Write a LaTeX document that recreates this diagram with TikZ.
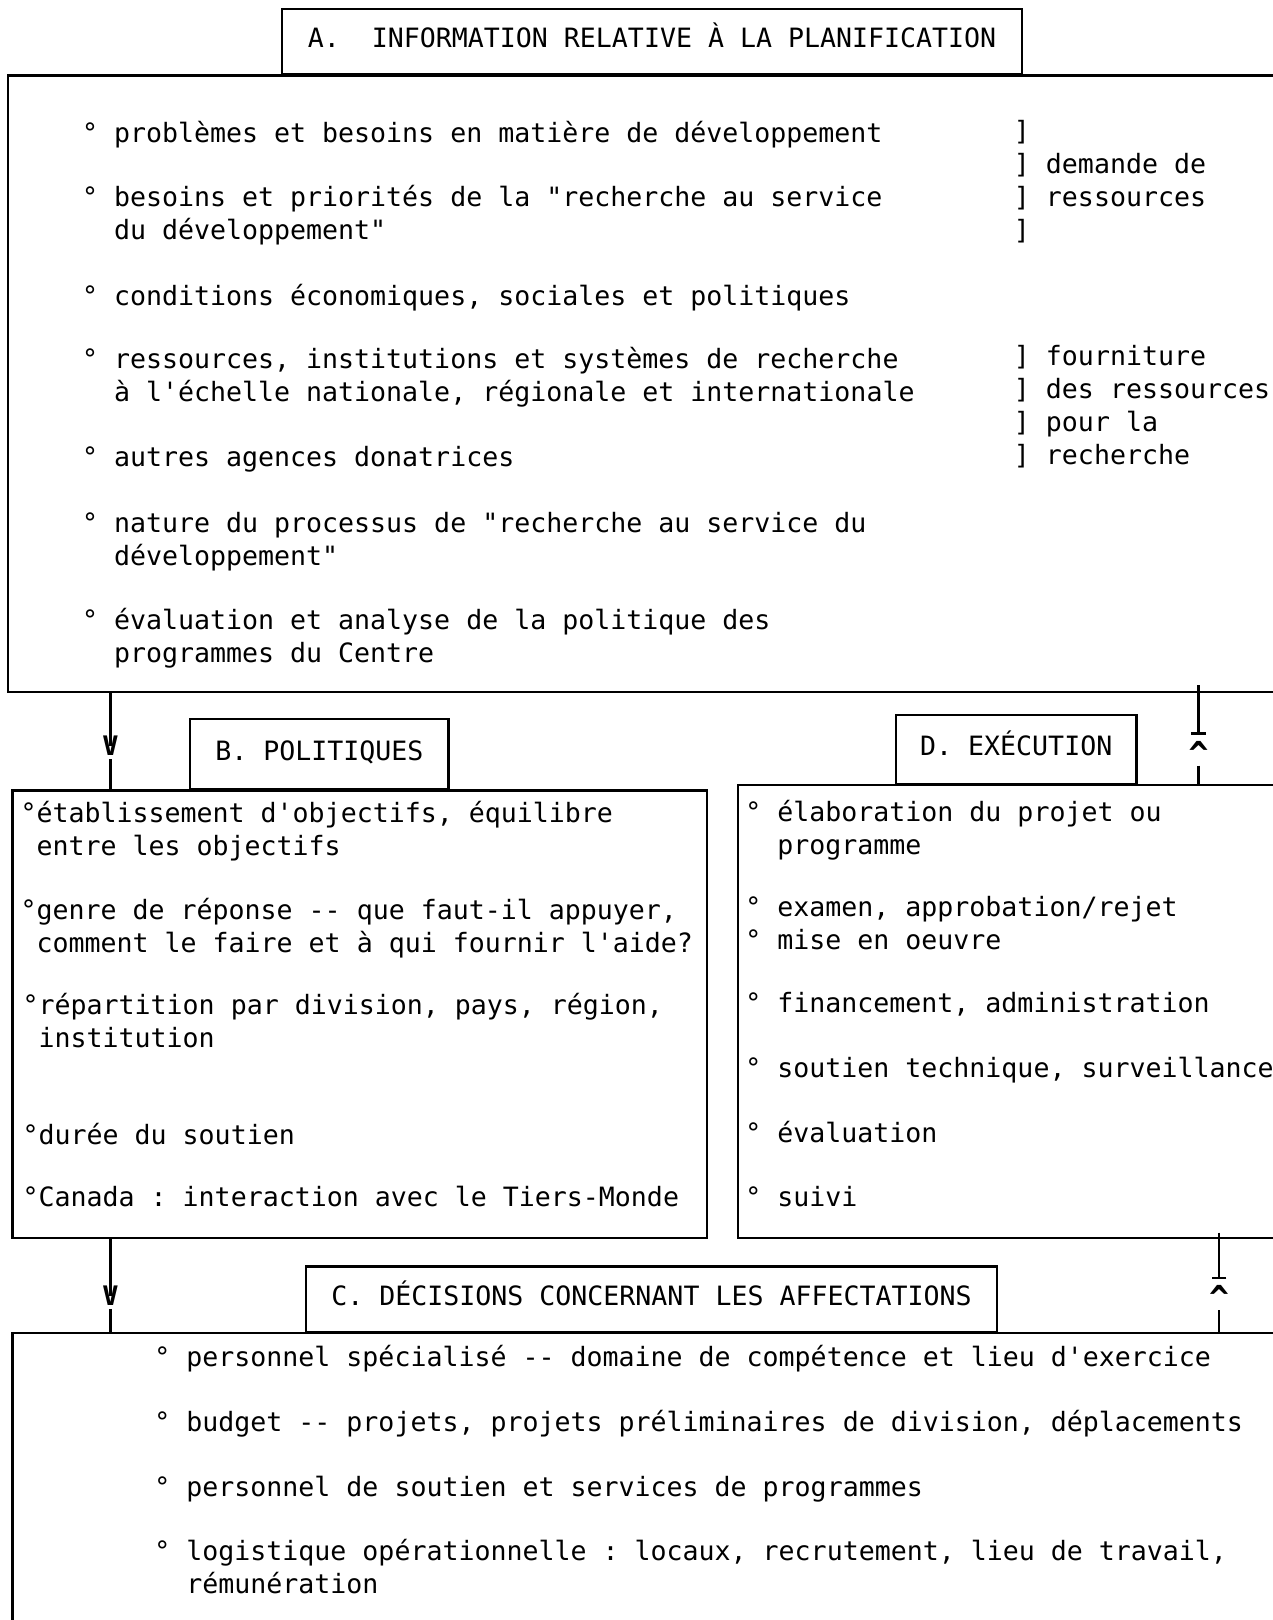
\documentclass[tikz,border=0pt]{standalone}
\usepackage{fontspec}
\setmonofont{DejaVu Sans Mono}
\usetikzlibrary{fit,arrows.meta}

\newcommand\typed{\ttfamily\fontsize{12.87}{16}\selectfont}
\newcommand\itemdot{\llap{°\ }}
\newcommand\tightdot{\llap{°}}

\tikzset{
	box/.style={draw, line width=1.1pt, inner sep=0pt},
	ttl/.style={box, anchor=south west, font=\typed, text height=8.5pt, text depth=2.5pt},
	txt/.style={anchor=base west, inner sep=0pt, align=left, font=\typed},
	arr/.style={inner sep=1.5pt, font=\ttfamily\bfseries\fontsize{13}{16}\selectfont},
	uparr/.style={inner sep=0pt, font=\ttfamily\bfseries\fontsize{16}{16}\selectfont},
	conn/.style={line width=1.1pt}
}

\begin{document}
\begin{tikzpicture}[x=0.5pt,y=-0.5pt]
		\useasboundingbox (0,0) rectangle (1232,1568);
		\clip (0,0) rectangle (1232,1568);
		\node[ttl, minimum width=358pt, minimum height=31.5pt] (tA) at (272,73) {A.~ INFORMATION RELATIVE À LA PLANIFICATION};
		\node[box, fit={(8,73) (1300,670)}] (boxA) {};
		\node[ttl, minimum width=125pt, minimum height=34pt] (tB) at (183,765) {B. POLITIQUES};
		\node[box, fit={(12,765) (684,1198)}] (boxB) {};
		\node[ttl, minimum width=116.5pt, minimum height=33.5pt] (tD) at (866,760) {D. EXÉCUTION};
		\node[box, fit={(714,760) (1300,1198)}] (boxD) {};
		\node[ttl, minimum width=334.5pt, minimum height=31.5pt] (tC) at (295,1290) {C. DÉCISIONS CONCERNANT LES AFFECTATIONS};
		\node[box, fit={(12,1290) (1300,1700)}] (boxC) {};

		\node[txt] (a1) at (110,138) {\itemdot problèmes et besoins en matière de développement};
		\node[txt] (a2) at (110,232) {\itemdot besoins et priorités de la "recherche au service\\du développement"};
		\node[txt] (a3) at (110,296) {\itemdot conditions économiques, sociales et politiques};
		\node[txt] (a4) at (110,389) {\itemdot ressources, institutions et systèmes de recherche\\à l'échelle nationale, régionale et internationale};
		\node[txt] (a5) at (110,452) {\itemdot autres agences donatrices};
		\node[txt] (a6) at (110,547) {\itemdot nature du processus de "recherche au service du\\développement"};
		\node[txt] (a7) at (110,641) {\itemdot évaluation et analyse de la politique des\\programmes du Centre};
		\node[txt] (dem) at (981,232) {]\\] demande de\\] ressources\\]};
		\node[txt] (four) at (981,450) {] fourniture\\] des ressources\\] pour la\\] recherche};

		\node[txt] (b1) at (35,828) {\tightdot établissement d'objectifs, équilibre\\entre les objectifs};
		\node[txt] (b2) at (35,922) {\tightdot genre de réponse -- que faut-il appuyer,\\comment le faire et à qui fournir l'aide?};
		\node[txt] (b3) at (37,1014) {\tightdot répartition par division, pays, région,\\institution};
		\node[txt] (b4) at (37,1108) {\tightdot durée du soutien};
		\node[txt] (b5) at (37,1168) {\tightdot Canada : interaction avec le Tiers-Monde};

		\node[txt] (d1) at (752,827) {\itemdot élaboration du projet ou\\programme};
		\node[txt] (d2) at (752,919) {\itemdot examen, approbation/rejet\\\itemdot mise en oeuvre};
		\node[txt] (d3) at (752,980) {\itemdot financement, administration};
		\node[txt] (d4) at (752,1043) {\itemdot soutien technique, surveillance};
		\node[txt] (d5) at (752,1106) {\itemdot évaluation};
		\node[txt] (d6) at (752,1168) {\itemdot suivi};

		\node[txt] (c1) at (180,1323) {\itemdot personnel spécialisé -- domaine de compétence et lieu d'exercice};
		\node[txt] (c2) at (180,1386) {\itemdot budget -- projets, projets préliminaires de division, déplacements};
		\node[txt] (c3) at (180,1448) {\itemdot personnel de soutien et services de programmes};
		\node[txt] (c4) at (180,1542) {\itemdot logistique opérationnelle : locaux, recrutement, lieu de travail,\\rémunération};

		\node[arr] (vAB) at (107,722) {V};
		\draw[conn] (vAB.center |- boxA.south) -- (vAB.center);
		\draw[conn] (vAB.south) -- (vAB.south |- boxB.north);
		\node[arr] (vBC) at (107,1254) {V};
		\draw[conn] (vBC.center |- boxB.south) -- (vBC.center);
		\draw[conn] (vBC.south) -- (vBC.south |- boxC.north);
		\node[uparr] (uDA) at (1160,729) {\textasciicircum};
		\draw[conn,-{Bar[width=7pt]}] ([yshift=4pt]uDA.north |- boxA.south) -- ([yshift=3pt]uDA.north);
		\draw[conn] (uDA.south) -- (uDA.south |- boxD.north);
		\node[uparr] (uCD) at (1180,1256) {\textasciicircum};
		\draw[conn,-{Bar[width=7pt]}] ([yshift=3pt]uCD.north |- boxD.south) -- ([yshift=3pt]uCD.north);
		\draw[conn] (uCD.south) -- (uCD.south |- boxC.north);
\end{tikzpicture}
\end{document}
